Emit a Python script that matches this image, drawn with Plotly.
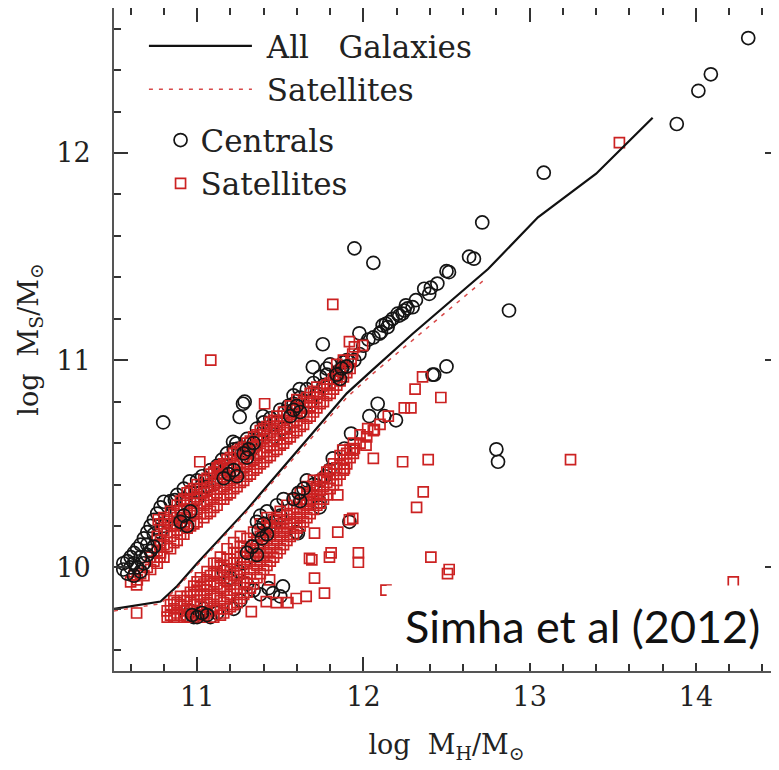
import plotly.graph_objects as go

# ---------------- data ----------------
# Centrals (open black circles): (log M_H, log M_S)
centrals_xy = [
    # high-mass tail
    (14.315, 12.555), (14.09, 12.38), (14.015, 12.30), (13.885, 12.14), (13.085, 11.905),
    (12.876, 11.24), (12.80, 10.57), (12.81, 10.51), (12.715, 11.665), (12.636, 11.50),
    (12.665, 11.49), (12.50, 11.43), (12.515, 11.425), (12.445, 11.37), (12.406, 11.35),
    (12.396, 11.32), (12.366, 11.345), (12.316, 11.29), (12.296, 11.256), (12.266, 11.25),
    (12.256, 11.265), (12.246, 11.24), (12.236, 11.225), (12.216, 11.215), (12.206, 11.225),
    (12.176, 11.20), (12.156, 11.184), (12.146, 11.16), (12.136, 11.176), (12.116, 11.168),
    (12.106, 11.136), (12.096, 11.128), (12.06, 11.11), (12.03, 11.10), (12.0, 11.07),
    (11.946, 11.54), (12.06, 11.47), (11.976, 11.13), (11.976, 11.03), (11.946, 11.0),
    (11.756, 11.077), (10.796, 10.70),
    # upper sequence
    (10.556, 9.99), (10.556, 10.02), (10.58, 10.03), (10.60, 10.05), (10.62, 10.07),
    (10.64, 10.09), (10.66, 10.11), (10.68, 10.14), (10.70, 10.17), (10.72, 10.20),
    (10.74, 10.16), (10.74, 10.23), (10.76, 10.13), (10.76, 10.26), (10.78, 10.17),
    (10.78, 10.29), (10.80, 10.20), (10.80, 10.317), (10.84, 10.25), (10.84, 10.32),
    (10.866, 10.325), (10.88, 10.27), (10.88, 10.35), (10.916, 10.205), (10.92, 10.33),
    (10.92, 10.38), (10.956, 10.415), (10.96, 10.36), (10.996, 10.37), (11.0, 10.42),
    (11.0, 10.33), (11.03, 10.44), (11.056, 10.42), (11.08, 10.47), (11.12, 10.49),
    (11.15, 10.46), (11.15, 10.52), (11.18, 10.49), (11.18, 10.55), (11.216, 10.606),
    (11.22, 10.57), (11.236, 10.598), (11.246, 10.574), (11.256, 10.726), (11.276, 10.534),
    (11.276, 10.79), (11.286, 10.80), (11.30, 10.56), (11.30, 10.62), (11.32, 10.60),
    (11.34, 10.58), (11.36, 10.62), (11.36, 10.67), (11.396, 10.73), (11.40, 10.66),
    (11.40, 10.70), (11.44, 10.72), (11.476, 10.70), (11.50, 10.76), (11.526, 10.75),
    (11.55, 10.78), (11.58, 10.79), (11.58, 10.83), (11.616, 10.86), (11.62, 10.82),
    (11.66, 10.86), (11.696, 10.967), (11.70, 10.89), (11.74, 10.92), (11.78, 10.93),
    (11.78, 10.96), (11.80, 10.98), (11.836, 10.935), (11.856, 10.95), (11.876, 10.967),
    (11.90, 11.0), (11.84, 10.92), (11.88, 10.99),
    (11.02, 10.36), (11.06, 10.39), (11.10, 10.40), (11.46, 10.63), (11.52, 10.67),
    (11.68, 10.80), (11.72, 10.84), (11.76, 10.88),
    # lower sequence
    (12.086, 10.79), (12.196, 10.71), (12.126, 10.73), (12.036, 10.73), (12.50, 10.97),
    (12.426, 10.93), (12.416, 10.93), (11.926, 10.646), (11.886, 10.574), (11.816, 10.526),
    (11.796, 10.47), (11.77, 10.44), (11.74, 10.42), (11.70, 10.40), (11.66, 10.42),
    (11.736, 10.317), (11.736, 10.29), (11.916, 10.22), (11.596, 10.17), (11.606, 10.165),
    (11.52, 10.33), (11.48, 10.30), (11.50, 10.25), (11.47, 10.22), (11.44, 10.20),
    (11.42, 10.27), (11.38, 10.25), (11.36, 10.22), (11.40, 10.16), (11.36, 10.10),
    (11.28, 10.02), (11.25, 9.98), (11.516, 9.908), (11.456, 9.876), (11.50, 9.86),
    (11.43, 9.90), (11.38, 9.87), (11.34, 9.89), (11.30, 9.92), (11.26, 9.84),
    (11.22, 9.80), (11.20, 9.95), (11.16, 9.98), (11.12, 9.78), (11.08, 9.76),
    (11.04, 9.80), (11.02, 9.78), (10.98, 9.76), (10.96, 9.79), (10.94, 9.77),
]

# Centrals that sit on top of the satellite clumps (dark patches inside the bands)
centrals_front_xy = [
    (10.58, 9.97), (10.60, 10.00), (10.62, 9.96), (10.62, 10.02), (10.64, 10.00),
    (10.66, 9.98), (10.66, 10.05), (10.68, 10.02), (10.70, 10.06), (10.72, 10.08),
    (10.70, 10.11), (10.74, 10.10),
    (10.90, 10.22), (10.92, 10.25), (10.94, 10.20), (10.96, 10.27),
    (11.16, 10.43), (11.19, 10.45), (11.22, 10.47), (11.24, 10.44),
    (11.28, 10.55), (11.31, 10.57), (11.34, 10.60), (11.30, 10.53),
    (11.56, 10.73), (11.58, 10.76), (11.60, 10.78), (11.62, 10.75),
    (11.84, 10.93), (11.87, 10.96), (11.90, 10.97), (11.86, 10.91),
    (11.37, 10.18), (11.40, 10.21), (11.42, 10.16), (11.39, 10.14),
    (11.58, 10.33), (11.61, 10.36), (11.64, 10.38), (11.62, 10.32),
    (11.30, 10.07), (11.33, 10.10), (11.36, 10.06),
    (10.97, 9.77), (11.00, 9.76), (11.03, 9.78), (11.06, 9.77),
]

# Satellites (open red squares): (log M_H, log M_S)
satellites_xy = [
    # isolated points
    (13.54, 12.05), (13.246, 10.52), (14.225, 9.93), (11.082, 11.0), (11.816, 11.27),
    (11.916, 11.09), (11.406, 10.79), (10.636, 9.78), (12.506, 9.97), (12.136, 9.89),
    (11.946, 11.064), (11.996, 11.072), (11.936, 11.03), (11.926, 11.0), (11.84, 10.98),
    (11.88, 11.0), (11.90, 10.96), (10.766, 10.23), (10.776, 10.11), (10.776, 10.05),
    (10.636, 9.916), (11.016, 10.51), (11.136, 10.486), (11.126, 10.477),
    # upper sequence
    (10.60, 9.93), (10.64, 9.94), (10.68, 9.96), (10.72, 9.99), (10.72, 10.05),
    (10.76, 10.02), (10.76, 10.08), (10.76, 10.15), (10.80, 10.05), (10.80, 10.11),
    (10.80, 10.18), (10.80, 10.24), (10.84, 10.09), (10.84, 10.15), (10.84, 10.21),
    (10.84, 10.27), (10.88, 10.13), (10.88, 10.18), (10.88, 10.24), (10.88, 10.30),
    (10.92, 10.16), (10.92, 10.22), (10.92, 10.28), (10.92, 10.33), (10.96, 10.20),
    (10.96, 10.25), (10.96, 10.31), (10.96, 10.37), (11.00, 10.22), (11.00, 10.28),
    (11.00, 10.34), (11.00, 10.40), (11.04, 10.24), (11.04, 10.30), (11.04, 10.36),
    (11.04, 10.42), (11.08, 10.27), (11.08, 10.33), (11.08, 10.39), (11.08, 10.45),
    (11.12, 10.30), (11.12, 10.36), (11.12, 10.42), (11.12, 10.48), (11.16, 10.33),
    (11.16, 10.39), (11.16, 10.45), (11.16, 10.50), (11.20, 10.36), (11.20, 10.42),
    (11.20, 10.48), (11.20, 10.53), (11.24, 10.39), (11.24, 10.45), (11.24, 10.50),
    (11.24, 10.56), (11.28, 10.42), (11.28, 10.48), (11.28, 10.53), (11.28, 10.58),
    (11.32, 10.45), (11.32, 10.51), (11.32, 10.56), (11.32, 10.61), (11.36, 10.48),
    (11.36, 10.54), (11.36, 10.59), (11.36, 10.64), (11.40, 10.51), (11.40, 10.56),
    (11.40, 10.62), (11.40, 10.67), (11.44, 10.54), (11.44, 10.59), (11.44, 10.65),
    (11.44, 10.70), (11.48, 10.57), (11.48, 10.62), (11.48, 10.68), (11.48, 10.73),
    (11.52, 10.60), (11.52, 10.65), (11.52, 10.71), (11.52, 10.75), (11.56, 10.63),
    (11.56, 10.68), (11.56, 10.74), (11.56, 10.78), (11.60, 10.66), (11.60, 10.71),
    (11.60, 10.77), (11.60, 10.81), (11.64, 10.69), (11.64, 10.75), (11.64, 10.80),
    (11.68, 10.73), (11.68, 10.78), (11.68, 10.84), (11.72, 10.77), (11.72, 10.82),
    (11.72, 10.87), (11.76, 10.80), (11.76, 10.86), (11.80, 10.84), (11.80, 10.89),
    (11.84, 10.88), (11.84, 10.93), (11.88, 10.92), (11.92, 10.96),
    (10.62, 9.96), (10.66, 9.97), (10.70, 10.00), (10.74, 10.03), (10.78, 10.07),
    (10.78, 10.13), (10.78, 10.21), (10.82, 10.10), (10.82, 10.17), (10.82, 10.23),
    (10.86, 10.12), (10.86, 10.20), (10.86, 10.26), (10.90, 10.16), (10.90, 10.21),
    (10.90, 10.27), (10.90, 10.32), (10.94, 10.19), (10.94, 10.24), (10.94, 10.30),
    (10.94, 10.36), (10.98, 10.21), (10.98, 10.27), (10.98, 10.33), (10.98, 10.38),
    (11.02, 10.26), (11.02, 10.31), (11.02, 10.38), (11.06, 10.26), (11.06, 10.32),
    (11.06, 10.37), (11.06, 10.43), (11.10, 10.29), (11.10, 10.35), (11.10, 10.41),
    (11.10, 10.46), (11.14, 10.33), (11.14, 10.38), (11.14, 10.43), (11.14, 10.49),
    (11.18, 10.35), (11.18, 10.41), (11.18, 10.47), (11.18, 10.52), (11.22, 10.38),
    (11.22, 10.44), (11.22, 10.49), (11.22, 10.55), (11.26, 10.41), (11.26, 10.46),
    (11.26, 10.52), (11.26, 10.57), (11.30, 10.44), (11.30, 10.50), (11.30, 10.55),
    (11.30, 10.60), (11.34, 10.47), (11.34, 10.52), (11.34, 10.58), (11.34, 10.63),
    (11.38, 10.50), (11.38, 10.55), (11.38, 10.61), (11.38, 10.66), (11.42, 10.53),
    (11.42, 10.58), (11.42, 10.64), (11.42, 10.68), (11.46, 10.56), (11.46, 10.61),
    (11.46, 10.67), (11.46, 10.71), (11.50, 10.59), (11.50, 10.64), (11.50, 10.70),
    (11.54, 10.62), (11.54, 10.67), (11.54, 10.73), (11.58, 10.65), (11.58, 10.70),
    (11.58, 10.76), (11.62, 10.68), (11.62, 10.73), (11.62, 10.79), (11.66, 10.72),
    (11.66, 10.77), (11.66, 10.82), (11.70, 10.75), (11.70, 10.80), (11.70, 10.85),
    (11.74, 10.79), (11.74, 10.84), (11.78, 10.83), (11.78, 10.88), (11.82, 10.86),
    (11.82, 10.91), (11.86, 10.90), (11.86, 10.95), (11.90, 10.94),
    # lower-right scatter
    (12.356, 10.92), (12.311, 10.86), (12.466, 10.82), (12.246, 10.77), (12.286, 10.77),
    (12.026, 10.67), (12.066, 10.665), (12.016, 10.59), (12.06, 10.526), (12.236, 10.51),
    (12.39, 10.52), (12.36, 10.365), (12.32, 10.29), (11.946, 10.574), (11.876, 10.566),
    (11.936, 10.566), (11.886, 10.478), (11.846, 10.35), (11.936, 10.237), (11.846, 10.17),
    (11.706, 10.165), (11.806, 10.07), (11.69, 10.036), (11.97, 10.07), (11.97, 10.025),
    (12.406, 10.05), (12.516, 9.99), (11.656, 10.30), (11.416, 9.835), (11.476, 9.83),
    (11.546, 9.83), (11.596, 9.85), (11.656, 9.86), (11.766, 9.876), (11.326, 9.787),
    (11.436, 9.94), (11.676, 10.044), (11.706, 9.948), (11.796, 10.05), (11.916, 10.23),
    # lower sequence
    (10.82, 9.76), (10.82, 9.79), (10.86, 9.76), (10.86, 9.80), (10.86, 9.84),
    (10.90, 9.77), (10.90, 9.82), (10.90, 9.86), (10.94, 9.76), (10.94, 9.80),
    (10.94, 9.86), (10.98, 9.77), (10.98, 9.82), (10.98, 9.87), (10.98, 9.91),
    (11.02, 9.76), (11.02, 9.81), (11.02, 9.86), (11.02, 9.91), (11.02, 9.95),
    (11.06, 9.78), (11.06, 9.83), (11.06, 9.89), (11.06, 9.94), (11.06, 9.98),
    (11.10, 9.76), (11.10, 9.81), (11.10, 9.87), (11.10, 9.93), (11.10, 9.97),
    (11.10, 10.02), (11.14, 9.77), (11.14, 9.84), (11.14, 9.90), (11.14, 9.96),
    (11.14, 10.01), (11.14, 10.05), (11.18, 9.80), (11.18, 9.86), (11.18, 9.93),
    (11.18, 9.99), (11.18, 10.04), (11.18, 10.09), (11.22, 9.82), (11.22, 9.89),
    (11.22, 9.96), (11.22, 10.02), (11.22, 10.07), (11.22, 10.12), (11.26, 9.85),
    (11.26, 9.92), (11.26, 9.99), (11.26, 10.05), (11.26, 10.10), (11.26, 10.15),
    (11.30, 9.88), (11.30, 9.95), (11.30, 10.02), (11.30, 10.08), (11.30, 10.14),
    (11.34, 9.92), (11.34, 9.99), (11.34, 10.05), (11.34, 10.11), (11.34, 10.17),
    (11.38, 9.97), (11.38, 10.03), (11.38, 10.09), (11.38, 10.15), (11.38, 10.21),
    (11.42, 10.01), (11.42, 10.07), (11.42, 10.13), (11.42, 10.19), (11.42, 10.24),
    (11.46, 10.05), (11.46, 10.11), (11.46, 10.17), (11.46, 10.23), (11.50, 10.09),
    (11.50, 10.15), (11.50, 10.21), (11.50, 10.27), (11.54, 10.13), (11.54, 10.19),
    (11.54, 10.25), (11.54, 10.30), (11.58, 10.16), (11.58, 10.22), (11.58, 10.28),
    (11.58, 10.33), (11.62, 10.20), (11.62, 10.26), (11.62, 10.31), (11.62, 10.36),
    (11.66, 10.24), (11.66, 10.30), (11.66, 10.35), (11.66, 10.39), (11.70, 10.28),
    (11.70, 10.33), (11.70, 10.38), (11.70, 10.42), (11.74, 10.31), (11.74, 10.37),
    (11.74, 10.42), (11.78, 10.35), (11.78, 10.41), (11.78, 10.46), (11.82, 10.40),
    (11.82, 10.45), (11.82, 10.50), (11.86, 10.45), (11.86, 10.50), (11.86, 10.54),
    (11.90, 10.50), (11.90, 10.55), (11.94, 10.55), (11.94, 10.60), (11.98, 10.60),
    (11.98, 10.64), (12.02, 10.63), (12.06, 10.66), (12.10, 10.69), (12.15, 10.73),
    (10.84, 9.77), (10.84, 9.82), (10.88, 9.78), (10.88, 9.83), (10.92, 9.76),
    (10.92, 9.79), (10.92, 9.84), (10.96, 9.78), (10.96, 9.84), (10.96, 9.88),
    (11.00, 9.79), (11.00, 9.84), (11.00, 9.89), (11.00, 9.93), (11.04, 9.77),
    (11.04, 9.82), (11.04, 9.87), (11.04, 9.92), (11.08, 9.79), (11.08, 9.85),
    (11.08, 9.91), (11.08, 9.96), (11.12, 9.80), (11.12, 9.86), (11.12, 9.92),
    (11.12, 9.98), (11.12, 10.02), (11.16, 9.78), (11.16, 9.83), (11.16, 9.89),
    (11.16, 9.95), (11.16, 10.01), (11.20, 9.81), (11.20, 9.87), (11.20, 9.92),
    (11.20, 9.98), (11.20, 10.04), (11.24, 9.83), (11.24, 9.90), (11.24, 9.96),
    (11.24, 10.02), (11.24, 10.07), (11.28, 9.87), (11.28, 9.93), (11.28, 9.99),
    (11.28, 10.05), (11.28, 10.10), (11.32, 9.90), (11.32, 9.97), (11.32, 10.03),
    (11.32, 10.09), (11.36, 9.95), (11.36, 10.01), (11.36, 10.07), (11.36, 10.13),
    (11.40, 9.99), (11.40, 10.05), (11.40, 10.11), (11.40, 10.17), (11.44, 10.03),
    (11.44, 10.09), (11.44, 10.15), (11.44, 10.20), (11.48, 10.07), (11.48, 10.13),
    (11.48, 10.19), (11.48, 10.24), (11.52, 10.11), (11.52, 10.17), (11.52, 10.23),
    (11.56, 10.15), (11.56, 10.21), (11.56, 10.26), (11.60, 10.19), (11.60, 10.24),
    (11.60, 10.29), (11.64, 10.22), (11.64, 10.28), (11.64, 10.33), (11.68, 10.26),
    (11.68, 10.32), (11.68, 10.36), (11.72, 10.30), (11.72, 10.35), (11.72, 10.39),
    (11.76, 10.33), (11.76, 10.39), (11.76, 10.43), (11.80, 10.38), (11.80, 10.43),
    (11.80, 10.47), (11.84, 10.42), (11.84, 10.48), (11.88, 10.47), (11.88, 10.52),
    (11.92, 10.53), (11.92, 10.57),
]

all_galaxies_x = [10.5, 10.78, 10.88, 11.0, 11.3, 11.6, 11.9, 12.05, 12.3, 12.75, 13.05, 13.4, 13.74]
all_galaxies_y = [9.80, 9.835, 9.91, 10.02, 10.28, 10.56, 10.84, 10.95, 11.13, 11.44, 11.69, 11.90, 12.17]

sat_line_x = [10.5, 10.78, 10.88, 11.0, 11.3, 11.6, 11.9, 12.05, 12.3, 12.73]
sat_line_y = [9.79, 9.825, 9.90, 10.01, 10.27, 10.545, 10.82, 10.93, 11.10, 11.39]

x_ticks = [11, 12, 13, 14]
y_ticks = [10, 11, 12]

cen_x = [p[0] for p in centrals_xy]
cen_y = [p[1] for p in centrals_xy]
cenf_x = [p[0] for p in centrals_front_xy]
cenf_y = [p[1] for p in centrals_front_xy]
sat_x = [p[0] for p in satellites_xy]
sat_y = [p[1] for p in satellites_xy]

SERIF = "DejaVu Serif"
RED = "#cc2222"
BLACK = "#151515"
NB = "\u00a0"

circle_marker = dict(symbol="circle-open", size=13, color=BLACK, line=dict(width=1.7))
square_marker = dict(symbol="square-open", size=10, color=RED, line=dict(width=1.7))

fig = go.Figure()

fig.add_trace(go.Scatter(
    x=cen_x, y=cen_y, mode="markers", name="Centrals", legend="legend2",
    legendgroup="cen", marker=circle_marker,
))
fig.add_trace(go.Scatter(
    x=sat_x, y=sat_y, mode="markers", name="Satellites", legend="legend2",
    marker=square_marker,
))
fig.add_trace(go.Scatter(
    x=cenf_x, y=cenf_y, mode="markers", name="Centrals", legend="legend2",
    legendgroup="cen", showlegend=False, marker=circle_marker,
))
fig.add_trace(go.Scatter(
    x=all_galaxies_x, y=all_galaxies_y, mode="lines",
    name=NB + "All" + NB * 3 + "Galaxies", legend="legend",
    line=dict(color="#111111", width=2.2),
))
fig.add_trace(go.Scatter(
    x=sat_line_x, y=sat_line_y, mode="lines", name=NB + "Satellites", legend="legend",
    line=dict(color="#d84a4a", width=1.5, dash="4px,6px"),
))

axis_common = dict(
    showgrid=False, zeroline=False, showline=True, linecolor="#555555", linewidth=2,
    mirror="ticks", ticks="inside", ticklen=14, tickwidth=1.5, tickcolor="#333333",
    tickfont=dict(family=SERIF, size=27, color="#222222"),
    minor=dict(ticks="inside", ticklen=7, tickwidth=1.5, tickcolor="#333333", dtick=0.2),
    automargin=False,
)

fig.update_layout(
    width=771, height=762,
    margin=dict(l=106, r=0, t=0, b=99),
    paper_bgcolor="white", plot_bgcolor="white",
    xaxis=dict(range=[10.5, 14.5], tickvals=x_ticks, ticklabelstandoff=1,
               title=dict(text="log" + NB * 2 + "M<sub>H</sub>/M<sub>\u2299</sub>",
                          font=dict(family=SERIF, size=27, color="#222222"), standoff=24),
               **axis_common),
    yaxis=dict(range=[9.5, 12.7], tickvals=y_ticks, ticklabelstandoff=16,
               title=dict(text="log" + NB * 2 + "M<sub>S</sub>/M<sub>\u2299</sub>",
                          font=dict(family=SERIF, size=27, color="#222222"), standoff=10),
               **axis_common),
    showlegend=True,
    legend=dict(x=0.045, y=0.983, xanchor="left", yanchor="top", itemwidth=103,
                bgcolor="rgba(0,0,0,0)", font=dict(family=SERIF, size=31, color="#222222"),
                tracegroupgap=0, traceorder="normal"),
    legend2=dict(x=0.070, y=0.841, xanchor="left", yanchor="top",
                 bgcolor="rgba(0,0,0,0)", font=dict(family=SERIF, size=31, color="#222222"),
                 tracegroupgap=0, traceorder="normal"),
    shapes=[dict(type="rect", xref="paper", yref="paper", x0=0.41, x1=1.0, y0=0.012, y1=0.129,
                 fillcolor="white", line=dict(width=0), layer="above")],
    annotations=[dict(text="Simha et al (2012)", xref="paper", yref="paper", x=0.704, y=0.068,
                      xanchor="center", yanchor="middle", showarrow=False,
                      font=dict(family="Lato", size=45, color="#111111"))],
)

fig.write_html("out.html", config={"displayModeBar": False})
